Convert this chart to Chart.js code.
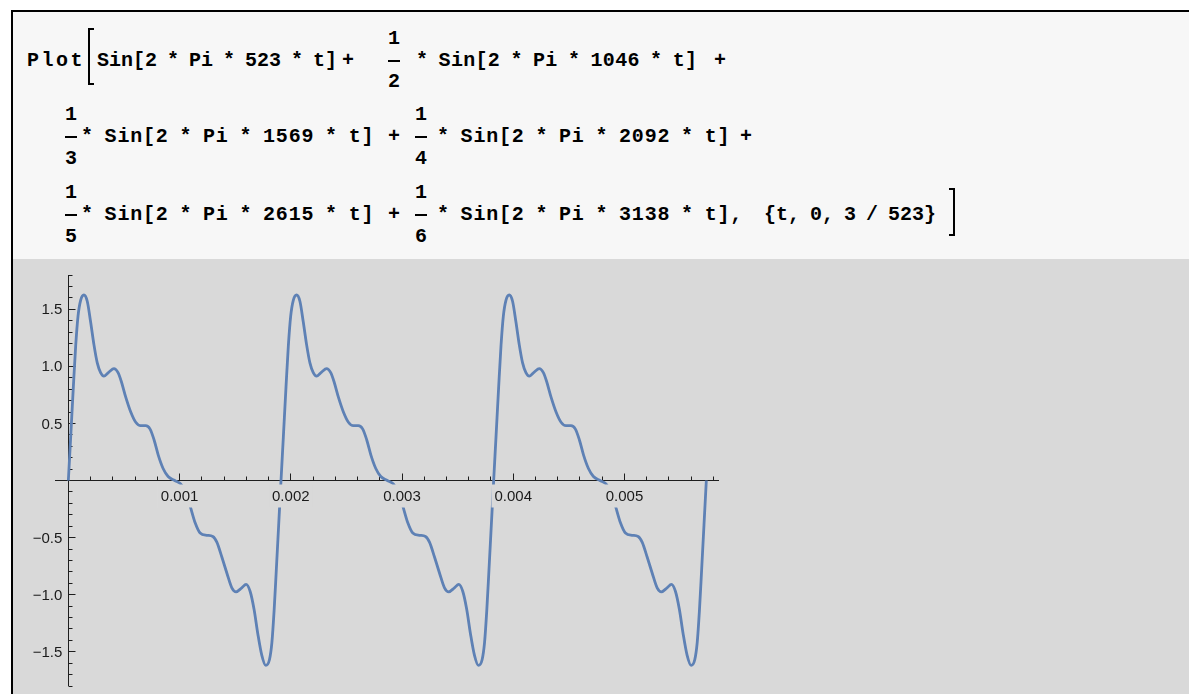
<!DOCTYPE html>
<html>
<head>
<meta charset="utf-8">
<title>Plot</title>
<script src="https://cdn.jsdelivr.net/npm/chart.js@4.4.0/dist/chart.umd.min.js"></script>
<style>
  html, body { margin: 0; padding: 0; background: #fff; }
  body { position: relative; width: 1189px; height: 694px; overflow: hidden; }
  #celda { position: absolute; left: 11px; top: 10px; width: 1178px; height: 249px; background: #f7f7f7; border-top: 2px solid #000; box-sizing: border-box; }
  #borde { position: absolute; left: 11px; top: 10px; width: 2px; height: 684px; background: #000; }
  .m { position: absolute; font: bold 20px "Liberation Mono", "Courier New", monospace; line-height: 20px; white-space: pre; word-spacing: -2px; color: #000; }
  .w { letter-spacing: 0.8px; }
  .c { width: 12px; text-align: center; }
  .bar { position: absolute; width: 12px; height: 2px; background: #000; }
  .brk { position: absolute; width: 6px; box-sizing: border-box; border: 2px solid #000; }
  #grafica { position: absolute; left: 13px; top: 259px; background: #d9d9d9; }
</style>
</head>
<body>
<div id="celda"></div>
<div id="borde"></div>

<!-- linea 1 -->
<div class="m" style="left:27px;top:51px;letter-spacing:2.5px">Plot</div>
<div class="brk" style="left:88px;top:28px;height:57px;border-right:none"></div>
<div class="m" style="left:97px;top:51px">Sin[2 * Pi * 523 * t]</div>
<div class="m" style="left:342px;top:51px">+</div>
<div class="m c" style="left:388px;top:29px">1</div>
<div class="bar" style="left:388px;top:60px"></div>
<div class="m c" style="left:388px;top:72px">2</div>
<div class="m" style="left:416px;top:51px;letter-spacing:0.3px">* Sin[2 * Pi * 1046 * t]</div>
<div class="m" style="left:714px;top:51px">+</div>

<!-- linea 2 -->
<div class="m c" style="left:65px;top:105px">1</div>
<div class="bar" style="left:65px;top:136px"></div>
<div class="m c" style="left:65px;top:149px">3</div>
<div class="m w" style="left:81px;top:127px">* Sin[2 * Pi * 1569 * t]</div>
<div class="m" style="left:388px;top:127px">+</div>
<div class="m c" style="left:415px;top:105px">1</div>
<div class="bar" style="left:415px;top:136px"></div>
<div class="m c" style="left:415px;top:149px">4</div>
<div class="m w" style="left:437px;top:127px">* Sin[2 * Pi * 2092 * t]</div>
<div class="m" style="left:740px;top:127px">+</div>

<!-- linea 3 -->
<div class="m c" style="left:65px;top:183px">1</div>
<div class="bar" style="left:65px;top:214px"></div>
<div class="m c" style="left:65px;top:227px">5</div>
<div class="m w" style="left:81px;top:205px">* Sin[2 * Pi * 2615 * t]</div>
<div class="m" style="left:388px;top:205px">+</div>
<div class="m c" style="left:415px;top:183px">1</div>
<div class="bar" style="left:415px;top:214px"></div>
<div class="m c" style="left:415px;top:227px">6</div>
<div class="m w" style="left:437px;top:205px">* Sin[2 * Pi * 3138 * t],</div>
<div class="m" style="left:764px;top:205px">{t, 0, 3 / 523}</div>
<div class="brk" style="left:949px;top:188px;height:48px;border-left:none"></div>

<canvas id="grafica" width="1176" height="435"></canvas>

<script>
// tiempo en segundos, tres ciclos de la onda
const timeSec = [
  0, 0.000021, 0.000045, 0.000066, 0.000087, 0.000111, 0.000140, 0.000170, 0.000200, 0.000230,
  0.000260, 0.000290, 0.000320, 0.000365, 0.000410, 0.000447, 0.000477, 0.000516, 0.000561, 0.000606,
  0.000650, 0.000695, 0.000735, 0.000771, 0.000809, 0.000852, 0.000897, 0.000956,
  0.001010, 0.001055, 0.001094, 0.001140, 0.001185, 0.001245, 0.001299, 0.001335, 0.001380, 0.001425,
  0.001470, 0.001508, 0.001559, 0.001598, 0.001634, 0.001670, 0.001703, 0.001739, 0.001775, 0.001808,
  0.001830, 0.001850, 0.001870, 0.001891, 0.001912,

  0.001933, 0.001957, 0.001978, 0.001999, 0.002023, 0.002052, 0.002082, 0.002112, 0.002142,
  0.002172, 0.002202, 0.002232, 0.002277, 0.002322, 0.002359, 0.002389, 0.002428, 0.002473, 0.002518,
  0.002562, 0.002607, 0.002647, 0.002683, 0.002721, 0.002764, 0.002809, 0.002868,
  0.002922, 0.002967, 0.003006, 0.003052, 0.003097, 0.003157, 0.003211, 0.003247, 0.003292, 0.003337,
  0.003382, 0.003420, 0.003471, 0.003510, 0.003546, 0.003582, 0.003615, 0.003651, 0.003687, 0.003720,
  0.003742, 0.003762, 0.003782, 0.003803, 0.003824,

  0.003845, 0.003869, 0.003890, 0.003911, 0.003935, 0.003964, 0.003994, 0.004024, 0.004054,
  0.004084, 0.004114, 0.004144, 0.004189, 0.004234, 0.004271, 0.004301, 0.004340, 0.004385, 0.004430,
  0.004474, 0.004519, 0.004559, 0.004595, 0.004633, 0.004676, 0.004721, 0.004780,
  0.004834, 0.004879, 0.004918, 0.004964, 0.005009, 0.005069, 0.005123, 0.005159, 0.005204, 0.005249,
  0.005294, 0.005332, 0.005383, 0.005422, 0.005458, 0.005494, 0.005527, 0.005563, 0.005599, 0.005632,
  0.005654, 0.005674, 0.005694, 0.005715, 0.005736
];

const amplitude = [
  0, 0.38, 0.82, 1.18, 1.44, 1.58, 1.625, 1.57, 1.39, 1.19,
  1.03, 0.945, 0.915, 0.95, 0.98, 0.945, 0.865, 0.73, 0.60, 0.51,
  0.48, 0.48, 0.45, 0.355, 0.22, 0.105, 0.035, 0,
  -0.03, -0.10, -0.22, -0.37, -0.46, -0.48, -0.49, -0.54, -0.67, -0.81,
  -0.94, -0.975, -0.94, -0.91, -0.97, -1.13, -1.34, -1.53, -1.62, -1.57,
  -1.42, -1.14, -0.78, -0.39, 0,

  0.38, 0.82, 1.18, 1.44, 1.58, 1.625, 1.57, 1.39, 1.19,
  1.03, 0.945, 0.915, 0.95, 0.98, 0.945, 0.865, 0.73, 0.60, 0.51,
  0.48, 0.48, 0.45, 0.355, 0.22, 0.105, 0.035, 0,
  -0.03, -0.10, -0.22, -0.37, -0.46, -0.48, -0.49, -0.54, -0.67, -0.81,
  -0.94, -0.975, -0.94, -0.91, -0.97, -1.13, -1.34, -1.53, -1.62, -1.57,
  -1.42, -1.14, -0.78, -0.39, 0,

  0.38, 0.82, 1.18, 1.44, 1.58, 1.625, 1.57, 1.39, 1.19,
  1.03, 0.945, 0.915, 0.95, 0.98, 0.945, 0.865, 0.73, 0.60, 0.51,
  0.48, 0.48, 0.45, 0.355, 0.22, 0.105, 0.035, 0,
  -0.03, -0.10, -0.22, -0.37, -0.46, -0.48, -0.49, -0.54, -0.67, -0.81,
  -0.94, -0.975, -0.94, -0.91, -0.97, -1.13, -1.34, -1.53, -1.62, -1.57,
  -1.42, -1.14, -0.78, -0.39, 0
];

const xMajorTicks = [0.001, 0.002, 0.003, 0.004, 0.005];
const xTickLabels = ['0.001', '0.002', '0.003', '0.004', '0.005'];
const yMajorTicks = [-1.5, -1.0, -0.5, 0.5, 1.0, 1.5];
const yTickLabels = ['\u22121.5', '\u22121.0', '\u22120.5', '0.5', '1.0', '1.5'];

const puntos = timeSec.map((t, i) => ({ x: t, y: amplitude[i] }));

// ejes cruzados en el origen, marcas hacia adentro
const ejes = {
  id: 'ejes',
  beforeDatasetsDraw(chart) {
    const { ctx, chartArea: a, scales: { x, y } } = chart;
    const ox = Math.floor(x.getPixelForValue(0)) + 0.5;
    const oy = Math.floor(y.getPixelForValue(0)) + 0.5;
    ctx.save();
    ctx.strokeStyle = '#1e1e1e';
    ctx.lineWidth = 1;
    ctx.beginPath();
    ctx.moveTo(a.left, oy); ctx.lineTo(a.right, oy);
    ctx.moveTo(ox, a.top); ctx.lineTo(ox, a.bottom);
    for (let i = 1; i <= 29; i++) {
      const px = Math.floor(x.getPixelForValue(i * 0.0002)) + 0.5;
      const len = (i % 5 === 0) ? 7 : 4;
      ctx.moveTo(px, oy); ctx.lineTo(px, oy - len);
    }
    for (let i = -18; i <= 18; i++) {
      if (i === 0) continue;
      const py = Math.floor(y.getPixelForValue(i / 10)) + 0.5;
      const len = (i % 5 === 0) ? 7 : 4;
      ctx.moveTo(ox, py); ctx.lineTo(ox + len, py);
    }
    ctx.stroke();
    ctx.restore();
  },
  afterDatasetsDraw(chart) {
    const { ctx, scales: { x, y } } = chart;
    const ox = x.getPixelForValue(0);
    const oy = y.getPixelForValue(0);
    ctx.save();
    ctx.font = '15px "Liberation Sans", Arial, sans-serif';
    ctx.textBaseline = 'middle';
    ctx.textAlign = 'center';
    xMajorTicks.forEach((v, i) => {
      const px = x.getPixelForValue(v);
      const w = ctx.measureText(xTickLabels[i]).width;
      ctx.fillStyle = '#d9d9d9';
      ctx.fillRect(px - w / 2 - 3, oy + 4, w + 6, 23);
      ctx.fillStyle = '#1a1a1a';
      ctx.fillText(xTickLabels[i], px, oy + 16);
    });
    ctx.textAlign = 'right';
    yMajorTicks.forEach((v, i) => {
      ctx.fillStyle = '#1a1a1a';
      ctx.fillText(yTickLabels[i], ox - 6, y.getPixelForValue(v) + 1);
    });
    ctx.restore();
  }
};

const grafica = new Chart('grafica', {
  type: 'line',
  data: {
    datasets: [{
      data: puntos,
      borderColor: '#5e81b5',
      borderWidth: 2.8,
      pointRadius: 0,
      cubicInterpolationMode: 'monotone',
      fill: false
    }]
  },
  options: {
    responsive: false,
    animation: false,
    devicePixelRatio: 1,
    events: [],
    layout: { padding: { left: 42, right: 470, top: 16, bottom: 8 } },
    plugins: { legend: { display: false }, tooltip: { enabled: false } },
    scales: {
      x: { type: 'linear', min: -0.00012, max: 0.00585, display: false },
      y: { min: -1.8, max: 1.8, display: false }
    }
  },
  plugins: [ejes]
});
</script>
</body>
</html>
